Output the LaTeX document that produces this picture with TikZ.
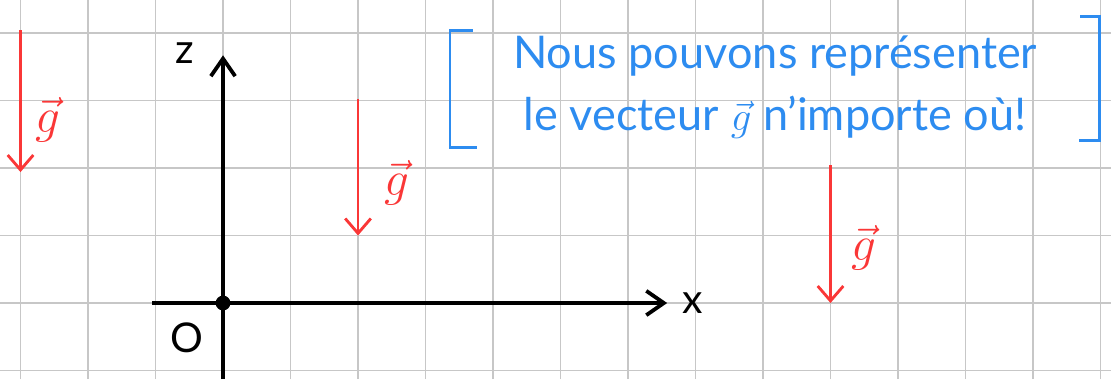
\documentclass[tikz,border=0pt]{standalone}
\usepackage{fontspec}
\setmainfont{Lato}
\usetikzlibrary{arrows.meta,positioning}
\definecolor{gred}{RGB}{250,55,55}
\definecolor{noteblue}{RGB}{45,140,240}

\begin{document}
\begin{tikzpicture}[x=1cm, y=1cm,
  gridline/.style={black!22, line width=0.6pt},
  axis/.style={line width=1.6pt, -{Straight Barb[length=2.6mm,width=3.6mm,line width=1.6pt]}},
  gvec/.style={gred, line width=1.2pt, -{Straight Barb[length=2.2mm,width=3.8mm,line width=1.2pt]}},
  glab/.style={text=gred, font=\huge},
  lab/.style={font=\LARGE},
  dot/.style={circle, fill=black, inner sep=0pt, minimum size=2.2mm},
  note/.style={text=noteblue, font=\fontsize{19}{26}\selectfont, align=center},
  bracket/.style={noteblue, line width=1.2pt}]
\useasboundingbox (-3.304,-1.126) rectangle (13.259,4.489);
\draw[gridline] (-3.304,-1.126) grid (13.15,4.489);
% axes
\node[dot] (O) at (0,0) {};
\coordinate (zb) at (0,-1.126);
\coordinate (zt) at (0,3.67);
\coordinate (xl) at (-1.05,0);
\coordinate (xr) at (6.58,0);
\draw[axis] (zb) -- (zt);
\draw[axis] (xl) -- (xr);
\node[lab] (zlab) at (-0.56,3.7) {z};
\node[lab] (xlab) at (6.96,0) {x};
\node[lab] (olab) at (-0.53,-0.52) {O};
% the same vector g drawn at three places
\foreach \i/\x/\ya/\yb/\lx/\ly in {1/-3/4.04/1.94/-2.6/2.72, 2/2/3.02/1.0/2.58/1.78, 3/9/2.04/0/9.5/0.82} {
  \coordinate (gs\i) at (\x,\ya);
  \coordinate (ge\i) at (\x,\yb);
  \draw[gvec] (gs\i) -- (ge\i);
  \node[glab] (gl\i) at (\lx,\ly) {$\vec{g}$};
}
% note between brackets
\node[note] (note) at (8.18,3.2) {Nous pouvons représenter\\le vecteur $\vec{g}$ n'importe où!};
\draw[bracket] (3.70,4.04) -- (3.363,4.04) -- (3.363,2.31) -- (3.76,2.31);
\draw[bracket] (12.70,4.24) -- (12.99,4.24) -- (12.99,2.41) -- (12.68,2.41);
\end{tikzpicture}
\end{document}
